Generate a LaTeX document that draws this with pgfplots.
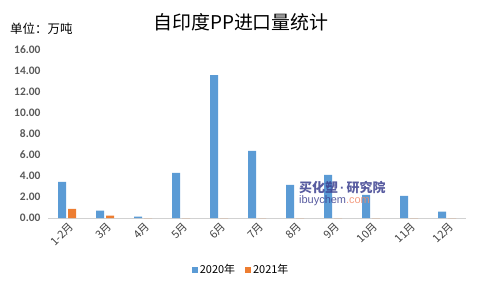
\documentclass[border=0pt]{standalone}
\usepackage{pgfplots}
\pgfplotsset{compat=1.18}
\usepackage{fontspec}
\setmainfont{Liberation Sans}
\newfontfamily\cjk{Noto Sans CJK SC}
\newfontfamily\carl{Carlito}
\definecolor{c20}{HTML}{5B9BD5}
\definecolor{c21}{HTML}{ED7D31}
\definecolor{tickgray}{HTML}{595959}
\definecolor{wmblue}{HTML}{3B3F8F}
\definecolor{wmorange}{HTML}{F28B6B}
\begin{document}
\begin{tikzpicture}[x=1bp,y=1bp]
\useasboundingbox (0,0) rectangle (480,288);
\begin{axis}[
  at={(48bp,70bp)}, anchor=south west,
  scale only axis, width=418bp, height=168bp,
  xmin=-0.5, xmax=10.5, ymin=0, ymax=16,
  ybar=2bp, bar width=8bp,
  axis x line*=bottom, axis y line*=left,
  y axis line style={draw=none},
  x axis line style={draw=black!18, line width=0.8bp},
  xtick={0,...,10},
  xticklabels={1-2月,3月,4月,5月,6月,7月,8月,9月,10月,11月,12月},
  xtick style={draw=none}, ytick style={draw=none},
  ytick={0,2,...,16},
  /pgf/number format/assume math mode=true,
  yticklabel={\pgfmathprintnumber[fixed,fixed zerofill,precision=2]{\tick}},
  yticklabel style={font=\carl\fontsize{11.5}{12}\selectfont\bfseries, text=tickgray, xshift=-4bp},
  xticklabel style={font=\cjk\fontsize{11}{12}\selectfont, text=black!75, rotate=45, anchor=east, xshift=5bp, yshift=-5bp},
  legend style={at={(0.462,-0.31)}, anchor=center, draw=none, legend columns=2,
    font=\cjk\fontsize{11}{12}\selectfont, /tikz/every even column/.append style={column sep=8bp}},
  legend image code/.code={\fill[#1] (0bp,-3bp) rectangle (6bp,3bp);},
]
\addplot[fill=c20, draw=none] coordinates {(0,3.45) (1,0.7) (2,0.12) (3,4.3) (4,13.6) (5,6.4) (6,3.15) (7,4.1) (8,2.2) (9,2.1) (10,0.6)};
\addplot[fill=c21, draw=none] coordinates {(0,0.88) (1,0.22) (2,0) (3,0) (4,0) (5,0) (6,0) (7,0) (8,0) (9,0) (10,0)};
\legend{2020年,2021年}
\end{axis}
\node[font=\cjk\fontsize{19}{20}\selectfont] at (241,266) {自印度PP进口量统计};
\node[anchor=west, font=\cjk\fontsize{12.5}{13}\selectfont, inner sep=0pt] at (10,259) {单位：万吨};
\node[anchor=west, inner sep=0pt, font=\cjk\fontsize{13}{14}\selectfont\bfseries, text=wmblue, opacity=0.85] at (299,100) {买化塑{\rmfamily\bfseries\,·\,}研究院};
\node[anchor=west, inner sep=0pt, font=\fontsize{11}{12}\selectfont, opacity=0.85] at (299,87) {\textcolor{wmblue}{ibuychem}\textcolor{wmorange}{.com}};
\end{tikzpicture}
\end{document}
